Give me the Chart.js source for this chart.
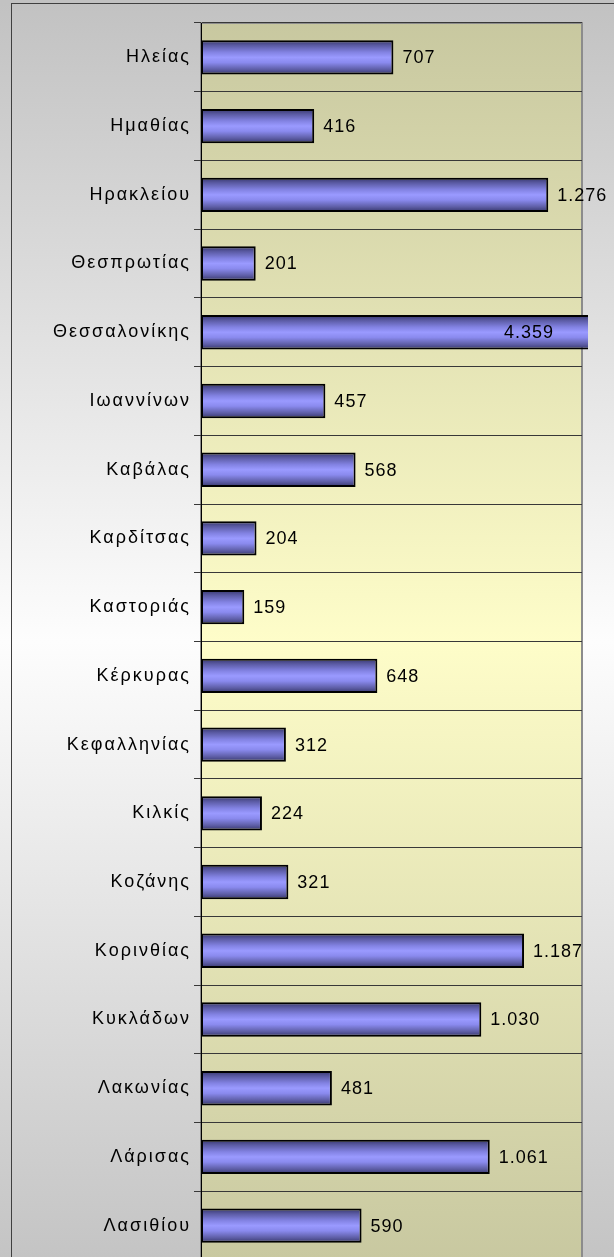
<!DOCTYPE html>
<html>
<head>
<meta charset="utf-8">
<script src="https://cdn.jsdelivr.net/npm/chart.js@4/dist/chart.umd.min.js"></script>
<style>
  html, body { margin: 0; padding: 0; overflow: hidden; background: #fff; }
  #wrap { position: absolute; left: 0; top: 0; width: 640px; height: 1300px; }
</style>
</head>
<body>
<div id="wrap"><canvas id="chartNomoi" width="640" height="1300"></canvas></div>
<script>
// νομοί και τιμές
const categories = ['Ηλείας', 'Ημαθίας', 'Ηρακλείου', 'Θεσπρωτίας', 'Θεσσαλονίκης', 'Ιωαννίνων',
    'Καβάλας', 'Καρδίτσας', 'Καστοριάς', 'Κέρκυρας', 'Κεφαλληνίας', 'Κιλκίς',
    'Κοζάνης', 'Κορινθίας', 'Κυκλάδων', 'Λακωνίας', 'Λάρισας', 'Λασιθίου'];
const values = [707, 416, 1276, 201, 4359, 457, 568, 204, 159, 648, 312, 224, 321, 1187, 1030, 481, 1061, 590];
const xMin = 0;
const xMax = 1400;

const fontFamily = "'Liberation Sans', Arial, sans-serif";

// 1276 -> "1.276"
function fmtNum(v) {
    return String(v).replace(/\B(?=(\d{3})+(?!\d))/g, '.');
}

// χρώμα μπάρας με κάθετη διαβάθμιση
function barFill(ctx) {
    const chart = ctx.chart;
    const ys = chart.scales.y;
    if (!ys || ctx.type !== 'data') return '#9999ff';
    const yc = ys.getPixelForValue(ctx.dataIndex);
    const half = ys.height / categories.length * 0.25;
    if (!isFinite(yc) || !isFinite(half) || half <= 0) return '#9999ff';
    const g = chart.ctx.createLinearGradient(0, yc - half, 0, yc + half);
    g.addColorStop(0, '#35356a');
    g.addColorStop(0.15, '#5a5aa2');
    g.addColorStop(0.35, '#8282e2');
    g.addColorStop(0.5, '#9a9aff');
    g.addColorStop(0.65, '#8a8aee');
    g.addColorStop(0.85, '#5e5ea6');
    g.addColorStop(1, '#35356a');
    return g;
}

const bgPlugin = {
    id: 'bgPlugin',
    beforeDraw(chart) {
        const c = chart.ctx;
        const a = chart.chartArea;
        c.letterSpacing = '2px';
        c.save();
        const og = c.createLinearGradient(0, 3, 0, 1280);
        og.addColorStop(0, '#c2c2c2');
        og.addColorStop(0.5, '#fdfdfd');
        og.addColorStop(1, '#c2c2c2');
        c.fillStyle = og;
        c.fillRect(0, 0, chart.width, chart.height);
        c.strokeStyle = '#404040';
        c.lineWidth = 1;
        c.strokeRect(11.5, 3.5, 700, 1400);
        const pg = c.createLinearGradient(0, a.top, 0, a.bottom);
        pg.addColorStop(0, '#c8c8a0');
        pg.addColorStop(0.5, '#fefdc9');
        pg.addColorStop(1, '#c8c8a0');
        c.fillStyle = pg;
        c.fillRect(a.left, a.top, a.right - a.left, a.bottom - a.top);
        c.strokeStyle = '#8c8c8c';
        c.lineWidth = 2;
        c.strokeRect(a.left, a.top, a.right - a.left, a.bottom - a.top);
        c.restore();
    }
};

// ετικέτες τιμών δίπλα στις μπάρες
const valueLabels = {
    id: 'valueLabels',
    afterDatasetsDraw(chart) {
        const c = chart.ctx;
        const a = chart.chartArea;
        const meta = chart.getDatasetMeta(0);
        c.save();
        c.font = '18px ' + fontFamily;
        c.letterSpacing = '1px';
        c.fillStyle = '#000';
        c.textBaseline = 'middle';
        meta.data.forEach(function (bar, i) {
            const txt = fmtNum(values[i]);
            if (bar.x > a.right) {
                c.textAlign = 'right';
                c.fillText(txt, a.right - 28, bar.y + 1);
            } else {
                c.textAlign = 'left';
                c.fillText(txt, bar.x + 9, bar.y + 1);
            }
        });
        c.restore();
    }
};

new Chart(document.getElementById('chartNomoi'), {
    type: 'bar',
    data: {
        labels: categories,
        datasets: [{
            data: values,
            backgroundColor: barFill,
            borderColor: '#000000',
            borderWidth: 2,
            borderSkipped: false,
            categoryPercentage: 1,
            barPercentage: 0.5,
            clip: { left: 0, top: 0, right: 6, bottom: 0 }
        }]
    },
    options: {
        indexAxis: 'y',
        responsive: false,
        animation: false,
        devicePixelRatio: 1,
        layout: { padding: { left: 0, top: 23, right: 58, bottom: 40 } },
        plugins: {
            legend: { display: false },
            tooltip: { enabled: false }
        },
        scales: {
            x: {
                display: false,
                min: xMin,
                max: xMax
            },
            y: {
                afterFit: function (s) { s.width = 201; },
                grid: {
                    offset: true,
                    color: '#383838',
                    lineWidth: 1,
                    tickLength: 7,
                    drawOnChartArea: true
                },
                border: { display: true, color: '#000000', width: 1 },
                ticks: {
                    color: '#000000',
                    padding: 3,
                    font: { family: fontFamily, size: 18 }
                }
            }
        }
    },
    plugins: [bgPlugin, valueLabels]
});
</script>
</body>
</html>
